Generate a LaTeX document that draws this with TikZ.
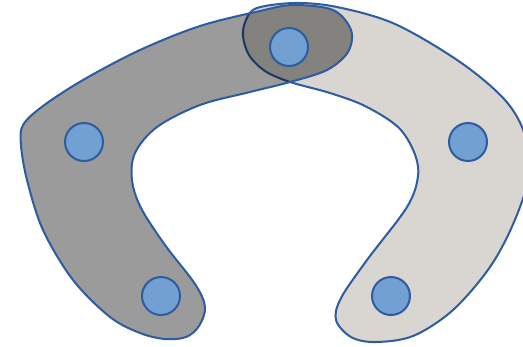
\documentclass[tikz,border=0pt]{standalone}
\usetikzlibrary{positioning}
\definecolor{ringblue}{HTML}{2F5C9E}
\definecolor{dotfill}{HTML}{72A0D3}
\definecolor{darkarm}{HTML}{9B9B9B}
\definecolor{lightarm}{HTML}{D9D6D2}
\begin{document}
\begin{tikzpicture}[x=0.02cm,y=-0.02cm,
  arm/.style={draw=ringblue,line width=1.15pt},
  dot/.style={circle,draw=ringblue,line width=1.15pt,fill=dotfill,minimum size=0.76cm,inner sep=0pt}]
\useasboundingbox (0,0) rectangle (523,346);
\begin{scope}
\clip (0,0) rectangle (523,346);
% right arm, light
\draw[arm,fill=lightarm] plot[smooth cycle,tension=0.55] coordinates {
  (257,8) (246,20) (243,36) (249,55) (265,71) (290,82) (330,93) (365,106)
  (398,127) (414,152) (418,176) (407,207) (367,260) (341,298) (336,320)
  (351,337) (375,342) (413,336) (453,310) (490,267) (514,222) (529,175)
  (525,135) (505,100) (460,62) (395,24) (337,7) (295,3)};
% left arm, dark (fill multiplied over the light arm)
\draw[arm,preaction={fill=darkarm,blend mode=multiply}] plot[smooth cycle,tension=0.55] coordinates {
  (23,125) (43,106) (83,80) (140,50) (200,26) (260,11) (293,5) (333,10)
  (351,30) (348,52) (327,70) (290,82) (250,92) (200,105) (157,127)
  (135,153) (132,180) (141,208) (165,245) (195,284) (205,307) (199,326)
  (186,337) (165,339) (140,333) (110,317) (73,280) (43,230) (27,180) (21,145)};
\end{scope}
\node[dot] (top) at (289,47) {};
\node[dot] (leftup) at (84,142) {};
\node[dot] (leftlow) at (161,296) {};
\node[dot] (rightup) at (468,142) {};
\node[dot] (rightlow) at (391,296) {};
\end{tikzpicture}
\end{document}
